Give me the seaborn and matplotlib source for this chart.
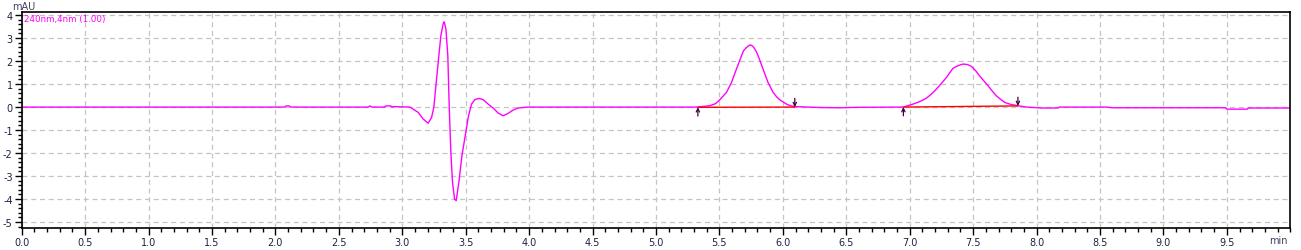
import numpy as np
import pandas as pd
import matplotlib
matplotlib.use("Agg")
import matplotlib.pyplot as plt
import seaborn as sns
from matplotlib.ticker import MultipleLocator

# ---- data ----
time_min = [0.00, 2.07, 2.085, 2.11, 2.12, 2.73, 2.745, 2.76, 2.86, 2.87, 2.91, 2.92, 2.93,
            3.060, 3.125, 3.165, 3.204, 3.231, 3.249, 3.265, 3.283, 3.304, 3.322, 3.330,
            3.344, 3.359, 3.370, 3.383, 3.396, 3.412, 3.425, 3.446, 3.470, 3.496, 3.522,
            3.546, 3.572, 3.604, 3.638, 3.677, 3.716, 3.756, 3.795, 3.835, 3.874, 3.913,
            3.99, 5.33, 5.424, 5.47, 5.503, 5.556, 5.595, 5.634, 5.674, 5.69, 5.713, 5.739,
            5.755, 5.771, 5.79, 5.810, 5.844, 5.883, 5.923, 5.95, 5.975, 6.028, 6.06, 6.094,
            6.30, 6.45, 6.60, 6.95,
            7.026, 7.08, 7.130, 7.17, 7.210, 7.25, 7.290, 7.340, 7.38, 7.420, 7.455, 7.486,
            7.52, 7.550, 7.617, 7.65, 7.683, 7.72, 7.750, 7.80,
            7.853, 7.920, 8.04, 8.17, 8.18, 8.55, 8.60, 9.49, 9.50, 9.66, 9.67, 10.00]
signal_mau = [0.00, 0.00, 0.05, 0.05, 0.00, 0.00, 0.05, 0.00, 0.00, 0.05, 0.05, 0.00, 0.02,
              0.00, -0.23, -0.52, -0.70, -0.45, 0.00, 0.93, 1.94, 3.10, 3.61, 3.71,
              3.39, 2.23, 0.00, -1.97, -3.27, -4.00, -4.07, -3.27, -2.12, -1.25, -0.38,
              0.13, 0.32, 0.38, 0.32, 0.13, -0.04, -0.26, -0.38, -0.27, -0.13, -0.04,
              0.00, 0.00, 0.06, 0.15, 0.32, 0.64, 1.07, 1.65, 2.23, 2.45, 2.59, 2.70,
              2.68, 2.59, 2.42, 2.16, 1.65, 1.07, 0.64, 0.45, 0.32, 0.13, 0.06, 0.02,
              -0.02, -0.03, -0.01, 0.00,
              0.13, 0.24, 0.38, 0.56, 0.78, 1.03, 1.29, 1.68, 1.80, 1.87, 1.85, 1.77,
              1.58, 1.36, 0.93, 0.70, 0.49, 0.32, 0.20, 0.11,
              0.06, 0.00, -0.04, -0.04, 0.00, 0.00, -0.03, -0.03, -0.09, -0.09, -0.04, -0.04]

# integration baselines: (start, end) times and levels
base_start_t = [5.33, 6.95]
base_end_t = [6.094, 7.853]
base_start_v = [-0.01, 0.00]
base_end_v = [0.00, 0.05]

x_ticks = [0.0, 0.5, 1.0, 1.5, 2.0, 2.5, 3.0, 3.5, 4.0, 4.5, 5.0, 5.5, 6.0, 6.5,
           7.0, 7.5, 8.0, 8.5, 9.0, 9.5]
y_ticks = [-5, -4, -3, -2, -1, 0, 1, 2, 3, 4]
trace_label = "240nm,4nm (1.00)"

# ---- plotting ----
sns.set_theme(style="white")
plt.rcParams['font.family'] = ['DejaVu Sans']

W, H = 1301, 251
fig = plt.figure(figsize=(W / 100, H / 100), dpi=100)
ax = fig.add_axes([21.7 / W, 1 - 229.3 / H, (1290.3 - 21.7) / W, (229.3 - 13.3) / H])

df = pd.DataFrame({"t": time_min, "v": signal_mau})
sns.lineplot(data=df, x="t", y="v", ax=ax, color="#ff00ff", linewidth=1.0,
             estimator=None, sort=False)

for t0, t1, v0, v1 in zip(base_start_t, base_end_t, base_start_v, base_end_v):
    ax.plot([t0, t1], [v0, v1], color="#ff0000", linewidth=1.0, zorder=3)
    ax.annotate("", xy=(t0, v0), xytext=(t0, v0 - 0.38),
                arrowprops=dict(arrowstyle="->", color="#400040", lw=0.9,
                                mutation_scale=6, shrinkA=0, shrinkB=0), zorder=4)
    ax.annotate("", xy=(t1, v1), xytext=(t1, v1 + 0.38),
                arrowprops=dict(arrowstyle="->", color="#400040", lw=0.9,
                                mutation_scale=6, shrinkA=0, shrinkB=0), zorder=4)

ax.set_xlim(0, 10)
ax.set_ylim(-5.27, 4.12)
ax.set_xticks(x_ticks)
ax.set_xticklabels([f"{v:.1f}" for v in x_ticks])
ax.set_yticks(y_ticks)
ax.set_yticklabels([str(v) for v in y_ticks])
ax.xaxis.set_minor_locator(MultipleLocator(0.1))
ax.yaxis.set_minor_locator(MultipleLocator(0.2))

ax.grid(True, which="major", color="#c4c4c4", linestyle=(0, (4, 3)), linewidth=0.9)
ax.set_axisbelow(True)
for s in ax.spines.values():
    s.set_color("black")
    s.set_linewidth(1.2)

ax.tick_params(axis="both", which="major", direction="out", length=5, width=1,
               color="black", labelsize=7, labelcolor="#202040", pad=1.5,
               left=True, bottom=True)
ax.tick_params(axis="both", which="minor", direction="out", length=3, width=1,
               color="black", left=True, bottom=True)
ax.set_xlabel("")
ax.set_ylabel("")

fig.text(24 / W, 1 - 6.5 / H, "mAU", fontsize=7, color="#404060",
         ha="center", va="center")
fig.text(1278 / W, 1 - 241 / H, "min", fontsize=7, color="#404060",
         ha="center", va="center")
ax.text(0.002, 0.99, trace_label, transform=ax.transAxes, fontsize=6.3,
        color="#ff00ff", ha="left", va="top")

fig.savefig("out.png", dpi=100)
